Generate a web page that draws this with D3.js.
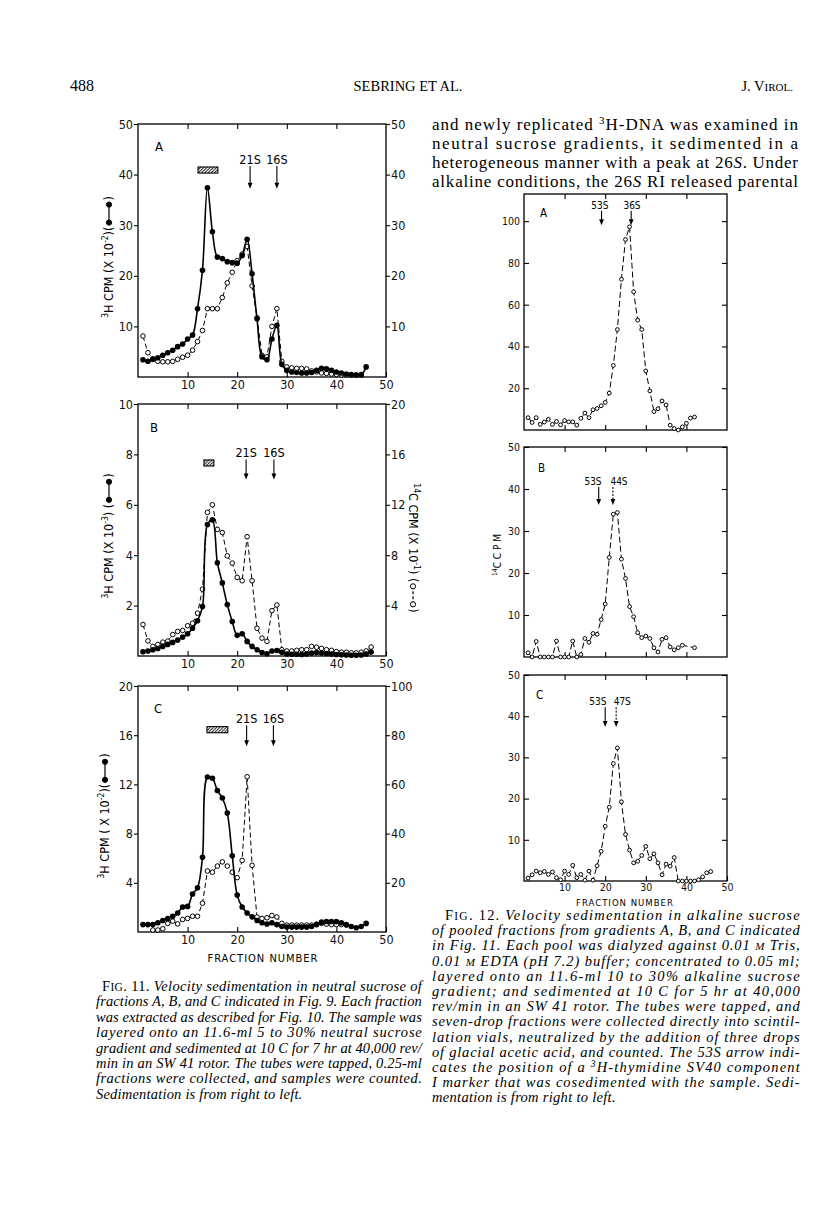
<!DOCTYPE html>
<html><head><meta charset="utf-8">
<script src="https://d3js.org/d3.v7.min.js"></script>
<style>html,body{margin:0;padding:0;background:#fff}svg{display:block}</style>
</head><body>
<svg id="page" width="816" height="1206" xmlns="http://www.w3.org/2000/svg"></svg>
<script>
// ================= DATA =================
const xTickValues = [10, 20, 30, 40, 50];

// Fig. 11 panel A  (3H solid, open on same scale)
const leftA_fractions = d3.range(1, 47);
const leftA_tritium = [3.4,3.1,3.5,3.8,4.3,4.8,5.3,6.0,6.5,7.5, 8.3,13.5,21.1,37.4,28.7,23.7,23.4,22.8,22.6,22.5,
  24.0,27.2,20.4,11.5,4.0,3.4,7.5,10.2,2.5,1.3, 1.0,0.9,0.8,0.8,0.9,1.3,1.7,1.6,1.3,1.0, 0.8,0.6,0.5,0.4,0.4,2.0];
const leftA_openFractions = d3.range(1, 46);
const leftA_open = [8.1,4.8,3.6,3.1,3.0,3.0,3.1,3.5,3.9,4.3, 5.3,7.0,9.2,13.5,13.5,13.5,15.7,18.6,20.7,23.0,
  24.3,25.8,18.0,11.7,4.3,4.0,10.0,13.5,3.1,2.0, 1.8,1.7,1.7,1.6,1.2,1.0,0.8,0.7,0.6,0.5, 0.4,0.4,0.4,0.4,0.5];

// Fig. 11 panel B  (3H x10^-3 left, 14C x10^-1 right)
const leftB_fractions = d3.range(1, 48);
const leftB_tritium = [0.17,0.2,0.25,0.3,0.38,0.46,0.54,0.63,0.75,0.88, 1.1,1.4,1.96,5.22,5.4,3.7,2.9,2.04,1.37,0.82,
  0.88,0.58,0.38,0.25,0.14,0.09,0.2,0.22,0.15,0.08, 0.07,0.07,0.06,0.08,0.12,0.14,0.12,0.1,0.08,0.06,
  0.05,0.04,0.03,0.03,0.04,0.08,0.16];
const leftB_carbon = [2.5,1.2,0.76,0.92,1.1,1.18,1.7,1.95,2.03,2.4, 2.6,3.4,5.3,11.4,12.0,10.05,9.8,7.95,7.37,6.24,
  5.97,9.47,5.97,2.2,1.42,1.16,3.6,4.05,0.5,0.4, 0.4,0.45,0.5,0.5,0.76,0.7,0.6,0.5,0.45,0.35,
  0.3,0.3,0.25,0.25,0.3,0.4,0.71];

// Fig. 11 panel C  (3H x10^-2 left, open on right 0-100)
const leftC_fractions = d3.range(1, 47);
const leftC_tritium = [0.6,0.6,0.6,0.75,0.93,1.1,1.28,1.55,2.03,2.08, 3.09,3.6,6.08,12.6,12.5,11.5,10.9,9.68,6.2,3.0,
  2.03,1.55,1.23,0.93,0.75,0.65,0.75,0.6,0.45,0.4, 0.4,0.4,0.4,0.4,0.45,0.6,0.8,0.85,0.85,0.85,
  0.75,0.6,0.45,0.35,0.45,0.7];
const leftC_openFractions = d3.range(3, 43);
const leftC_open = [0.8,0.8,1.3,3.5,4.4,3.3,5.1,5.5,6.4,6.4, 11.7,24.8,24.3,26.8,28.5,26.8,24.3,22.1,29.1,63.1,
  27.1,6.1,5.5,5.8,6.7,6.1,3.5,2.8,2.8,2.8, 2.8,2.8,2.8,3.2,3.5,3.2,3.0,3.0,3.0,2.8];

// Fig. 12 panels (14C CPM, alkaline)
const rightA_fractions = d3.range(1, 43);
const rightA_cpm = [5.9,3.6,5.9,2.7,3.8,5.1,2.7,4.1,2.5,4.5, 3.9,3.9,2.3,5.6,8.1,5.9,9.7,10.3,11.6,13.2,
  17.7,30.9,48.1,72.2,91.2,97.3,66.2,52.6,48.1,28.3, 18.7,8.8,10.2,13.9,12.0,2.3,0.7,0,1.5,3.2, 5.7,6.2];
const rightB_fractions = d3.range(1, 40).concat([42]);
const rightB_cpm = [1.0,0,3.7,0,0,0,0,3.8,0,0, 0,3.8,0,0.6,4.4,3.5,5.6,5.4,8.9,12.6,
  23.7,34,34.4,23.3,18.7,12,9.6,5.8,4.6,5.0, 4.4,2.2,1.2,4.2,4.6,2.4,1.7,2.2,2.8, 2.2];
const rightC_fractions = d3.range(1, 47);
const rightC_cpm = [0.7,1.5,2.4,2.0,2.3,1.6,2.2,0.8,0.3,2.4, 1.6,3.8,0.8,1.6,0.2,2.4,0.2,3.7,7.2,13.3,
  17.9,28.5,32.3,19.2,11.3,7.5,4.4,4.8,6.2,8.4, 5.4,6.6,4.4,1.5,4.1,3.6,5.7,0,0,0, 0,0,0.3,1.0,2.0,2.3];

// Axis tick labels
const leftA_ticksL = [10,20,30,40,50], leftA_ticksR = [10,20,30,40,50];
const leftB_ticksL = [2,4,6,8,10],    leftB_ticksR = [4,8,12,16,20];
const leftC_ticksL = [4,8,12,16,20],  leftC_ticksR = [20,40,60,80,100];
const rightA_ticks = [20,40,60,80,100];
const rightBC_ticks = [10,20,30,40,50];

// Hatched pool bars: [fraction from, fraction to, value low, value high]
const poolBars = [[12.1,16.1,40.3,41.5],[13.3,15.3,7.54,7.78],[13.9,18.1,16.2,16.7]];
// Sedimentation markers: label, arrow fraction, arrow from value, to value, label fraction
const markersLeftA = [["21S",22.6,41.7,37.2,22.6],["16S",28.0,41.7,37.2,28.0]];
const markersLeftB = [["21S",21.8,7.8,7.0,21.8],["16S",27.4,7.8,7.0,27.4]];
const markersLeftC = [["21S",21.9,16.8,15.1,21.9],["16S",27.3,16.8,15.1,27.3]];
const markersRightA = [["53S",19.1,105,98,18.7],["36S",26.4,105,98,26.6]];
const markersRightB = [["53S",18.4,40.5,36.2,17.0],["44S",21.9,40.5,36.2,23.4]];
const markersRightC = [["53S",20.0,42.2,37.4,18.2],["47S",22.7,42.2,37.4,24.2]];

// ================= DRAWING =================
const svg = d3.select("#page");
const AX = "'Liberation Sans Narrow','Arial Narrow','DejaVu Sans Condensed',sans-serif";
const SERIF = "'Liberation Serif','Times New Roman',serif";
svg.append("rect").attr("width",816).attr("height",1206).attr("fill","#fff");

const defs = svg.append("defs");
const pat = defs.append("pattern").attr("id","hatch").attr("patternUnits","userSpaceOnUse")
  .attr("width",3.2).attr("height",3.2);
pat.append("path").attr("d","M-1,1 l2,-2 M0,3.2 l3.2,-3.2 M2.2,4.2 l2,-2")
  .attr("stroke","#000").attr("stroke-width",0.9);

function drawPanel(p) {
  const x = d3.scaleLinear().domain([0,50]).range([p.x0,p.x1]);
  const yL = d3.scaleLinear().domain([0,p.maxL]).range([p.yb,p.yt]);
  const yR = d3.scaleLinear().domain([0,p.maxR]).range([p.yb,p.yt]);
  const g = svg.append("g");
  const inner = [10,20,30,40];
  g.append("g").attr("transform",`translate(0,${p.yt})`)
    .call(d3.axisTop(x).tickValues(inner).tickSize(-5).tickFormat(""));
  const bAxis = g.append("g").attr("transform",`translate(0,${p.yb})`)
    .call(d3.axisBottom(x).tickValues(p.xLabels ? xTickValues : inner).tickSize(-5)
      .tickPadding(p.right ? 3 : 3).tickFormat(p.xLabels ? d3.format("d") : ""));
  bAxis.attr("font-family",AX).attr("font-size",p.right?10.5:12.5);
  if (p.right) {
    const la = g.append("g").attr("transform",`translate(${p.x0},0)`)
      .call(d3.axisLeft(yL).tickValues(p.tL).tickSize(-5).tickPadding(4));
    la.attr("font-family",AX).attr("font-size",10.5);
    g.append("g").attr("transform",`translate(${p.x1},0)`)
      .call(d3.axisRight(yL).tickValues(p.tL).tickSize(-5).tickFormat(""));
  } else {
    const la = g.append("g").attr("transform",`translate(${p.x0},0)`)
      .call(d3.axisLeft(yL).tickValues(p.tL).tickSize(4).tickPadding(1));
    la.attr("font-family",AX).attr("font-size",12.5);
    const ra = g.append("g").attr("transform",`translate(${p.x1},0)`)
      .call(d3.axisRight(yR).tickValues(p.tR).tickSize(4).tickPadding(1));
    ra.attr("font-family",AX).attr("font-size",12.5);
  }
  g.selectAll(".domain").remove();
  g.selectAll(".tick line").attr("stroke","#000").attr("stroke-width",1.1);
  g.selectAll(".tick text").attr("fill","#111");
  g.append("rect").attr("x",p.x0).attr("y",p.yt).attr("width",p.x1-p.x0).attr("height",p.yb-p.yt)
    .attr("fill","none").attr("stroke","#000").attr("stroke-width",1.3);

  g.append("text").attr("x",p.letterX).attr("y",p.letterY).attr("font-family",AX)
    .attr("font-size",p.right?11.5:13).text(p.letter);

  if (p.bar) {
    const [f0,f1,v0,v1] = p.bar;
    g.append("rect").attr("x",x(f0)).attr("y",yL(v1)).attr("width",x(f1)-x(f0)).attr("height",yL(v0)-yL(v1))
      .attr("fill","url(#hatch)").attr("stroke","#000").attr("stroke-width",1.1);
  }
  p.markers.forEach((m,i) => {
    const [lab,f,v0,v1,lf] = m;
    const ax = x(f), ya = yL(v0), yb = yL(v1);
    g.append("line").attr("x1",ax).attr("x2",ax).attr("y1",ya).attr("y2",yb-3)
      .attr("stroke","#000").attr("stroke-width",1.1)
      .attr("stroke-dasharray", (p.right && i===1 && p.dottedSecond) ? "2,1.5" : null);
    g.append("path").attr("d",`M${ax-2.4},${yb-6}L${ax},${yb}L${ax+2.4},${yb-6}Z`).attr("fill","#000");
    g.append("text").attr("x",x(lf)).attr("y",ya-2).attr("text-anchor","middle")
      .attr("font-family",AX).attr("font-size",p.right?10:12.5).text(lab);
  });

  p.series.forEach(s => {
    const y = s.axis === "R" ? yR : yL;
    const pts = s.f.map((f,i) => [f, s.v[i]]);
    if (s.kind === "solid") {
      g.append("path").datum(pts).attr("fill","none").attr("stroke","#000").attr("stroke-width",1.6)
        .attr("d", d3.line().x(d=>x(d[0])).y(d=>y(d[1])).curve(d3.curveCatmullRom.alpha(0.5)));
      g.append("g").selectAll("circle").data(pts).join("circle")
        .attr("cx",d=>x(d[0])).attr("cy",d=>y(d[1])).attr("r",2.8).attr("fill","#000");
    } else {
      g.append("path").datum(pts).attr("fill","none").attr("stroke","#000").attr("stroke-width",1)
        .attr("stroke-dasharray", p.right ? "6,3" : "5,3")
        .attr("d", d3.line().x(d=>x(d[0])).y(d=>y(d[1])));
      g.append("g").selectAll("circle").data(pts).join("circle")
        .attr("cx",d=>x(d[0])).attr("cy",d=>y(d[1])).attr("r",p.right?1.9:2.3)
        .attr("fill","#fff").attr("stroke","#000").attr("stroke-width",1);
    }
  });
}

const panels = [
  {x0:138,x1:386,yt:124,yb:377,maxL:50,maxR:50,tL:leftA_ticksL,tR:leftA_ticksR,xLabels:true,right:false,
   letter:"A",letterX:155,letterY:151,bar:poolBars[0],markers:markersLeftA,
   series:[{f:leftA_openFractions,v:leftA_open,axis:"L",kind:"open"},{f:leftA_fractions,v:leftA_tritium,axis:"L",kind:"solid"}]},
  {x0:138,x1:386,yt:404,yb:656,maxL:10,maxR:20,tL:leftB_ticksL,tR:leftB_ticksR,xLabels:true,right:false,
   letter:"B",letterX:150,letterY:432,bar:poolBars[1],markers:markersLeftB,
   series:[{f:leftB_fractions,v:leftB_carbon,axis:"R",kind:"open"},{f:leftB_fractions,v:leftB_tritium,axis:"L",kind:"solid"}]},
  {x0:138,x1:386,yt:686,yb:932,maxL:20,maxR:100,tL:leftC_ticksL,tR:leftC_ticksR,xLabels:true,right:false,
   letter:"C",letterX:154,letterY:713,bar:poolBars[2],markers:markersLeftC,
   series:[{f:leftC_openFractions,v:leftC_open,axis:"R",kind:"open"},{f:leftC_fractions,v:leftC_tritium,axis:"L",kind:"solid"}]},
  {x0:524,x1:727,yt:194,yb:430,maxL:113,maxR:113,tL:rightA_ticks,xLabels:false,right:true,
   letter:"A",letterX:540,letterY:217,markers:markersRightA,
   series:[{f:rightA_fractions,v:rightA_cpm,axis:"L",kind:"open"}]},
  {x0:524,x1:727,yt:447,yb:657,maxL:50,maxR:50,tL:rightBC_ticks,xLabels:false,right:true,dottedSecond:true,
   letter:"B",letterX:538,letterY:472,markers:markersRightB,
   series:[{f:rightB_fractions,v:rightB_cpm,axis:"L",kind:"open"}]},
  {x0:524,x1:727,yt:675,yb:881,maxL:50,maxR:50,tL:rightBC_ticks,xLabels:true,right:true,dottedSecond:true,
   letter:"C",letterX:536,letterY:699,markers:markersRightC,
   series:[{f:rightC_fractions,v:rightC_cpm,axis:"L",kind:"open"}]}
];
panels.forEach(drawPanel);

// ---------- rotated axis titles ----------
function richText(parent, parts, fs) {
  const t = parent.append("text").attr("font-size", fs);
  let shift = 0;
  parts.forEach(p => {
    const ts = t.append("tspan").text(p.t);
    const target = p.sup ? -fs*0.4 : 0;
    if (target !== shift) { ts.attr("dy", target - shift); shift = target; }
    if (p.sup) ts.attr("font-size", fs*0.68);
  });
  return t;
}
function yTitle(cx, cy, rot, parts, fs, marker) {
  const g = svg.append("g").attr("transform",`translate(${cx},${cy}) rotate(${rot})`).attr("font-family",AX);
  const t1 = richText(g, parts, fs);
  const w1 = t1.node().getComputedTextLength();
  let mw = 0, w2 = 0, t2 = null;
  if (marker) {
    mw = 26;
    t2 = g.append("text").attr("font-size",fs).text(")");
    w2 = t2.node().getComputedTextLength();
  }
  const s = -(w1+mw+w2)/2;
  t1.attr("x", s).attr("y", fs*0.35);
  if (marker) {
    const my = 0, a = s+w1+4, b = s+w1+mw-4;
    g.append("line").attr("x1",a).attr("x2",b).attr("y1",my).attr("y2",my).attr("stroke","#000")
      .attr("stroke-width",1.2).attr("stroke-dasharray", marker==="open" ? "3,2" : null);
    [a,b].forEach(cxm => g.append("circle").attr("cx",cxm).attr("cy",my).attr("r",2.6)
      .attr("fill", marker==="open" ? "#fff" : "#000").attr("stroke","#000").attr("stroke-width",1));
    t2.attr("x", s+w1+mw).attr("y", fs*0.35);
  }
}
yTitle(109, 257, -90, [{t:"3",sup:true},{t:"H CPM (X 10"},{t:"-2",sup:true},{t:")("}], 12.5, "solid");
yTitle(109, 536, -90, [{t:"3",sup:true},{t:"H CPM (X 10"},{t:"-3",sup:true},{t:") ("}], 12.5, "solid");
yTitle(413, 548, 90, [{t:"14",sup:true},{t:"C CPM (X 10"},{t:"-1",sup:true},{t:") ("}], 12.5, "open");
yTitle(105, 816, -90, [{t:"3",sup:true},{t:"H CPM ( X 10"},{t:"-2",sup:true},{t:")("}], 12.5, "solid");
const t14 = svg.append("g").attr("transform","translate(497,555) rotate(-90)").attr("font-family",AX);
richText(t14, [{t:"14",sup:true},{t:"C C P M"}], 10).attr("text-anchor","middle").attr("y",3.5);

// x axis titles
svg.append("text").attr("x",263).attr("y",962).attr("text-anchor","middle").attr("font-family",AX)
  .attr("font-size",11).attr("letter-spacing",1).text("FRACTION NUMBER");
svg.append("text").attr("x",625).attr("y",906).attr("text-anchor","middle").attr("font-family",AX)
  .attr("font-size",9.5).attr("letter-spacing",1).text("FRACTION NUMBER");

// ---------- page text ----------
function para(lines, x, right, y0, lh, fs, baseStyle, justifyLast, indent, ls) {
  lines.forEach((parts, i) => {
    const ind = i === 0 ? indent : 0;
    const t = svg.append("text").attr("x", x + ind).attr("y", y0 + i*lh)
      .attr("font-family", SERIF).attr("font-size", fs).attr("font-style", baseStyle)
      .attr("letter-spacing", ls || 0);
    (typeof parts === "string" ? [{t:parts}] : parts).forEach(p => {
      const ts = t.append("tspan").text(p.t);
      if (p.st) ts.attr("font-style", p.st);
      if (p.fs) ts.attr("font-size", p.fs);
      if (p.sup) ts.attr("baseline-shift","super").attr("font-size", fs*0.65);
    });
    if (i < lines.length-1 || justifyLast) {
      t.attr("textLength", right - x - ind).attr("lengthAdjust","spacing");
    }
  });
}

// header
svg.append("text").attr("x",70).attr("y",91).attr("font-family",SERIF).attr("font-size",16).text("488");
svg.append("text").attr("x",408).attr("y",91).attr("text-anchor","middle").attr("font-family",SERIF)
  .attr("font-size",14.5).text("SEBRING ET AL.");
const jv = svg.append("text").attr("x",793).attr("y",91).attr("text-anchor","end").attr("font-family",SERIF).attr("font-size",14.5);
jv.append("tspan").text("J. V"); jv.append("tspan").attr("font-size",11).text("IROL.");

// right column paragraph
para([
  [{t:"and newly replicated "},{t:"3",sup:true},{t:"H-DNA was examined in"}],
  "neutral sucrose gradients, it sedimented in a",
  [{t:"heterogeneous manner with a peak at 26"},{t:"S",st:"italic"},{t:". Under"}],
  [{t:"alkaline conditions, the 26"},{t:"S",st:"italic"},{t:" RI released parental"}]
], 432, 798, 130, 19, 17, "normal", true, 0, 0);

// Fig 11 caption
para([
  [{t:"F",st:"normal"},{t:"IG",st:"normal",fs:11.5},{t:". 11. ",st:"normal"},{t:"Velocity sedimentation in neutral sucrose of"}],
  "fractions A, B, and C indicated in Fig. 9. Each fraction",
  "was extracted as described for Fig. 10. The sample was",
  "layered onto an 11.6-ml 5 to 30% neutral sucrose",
  "gradient and sedimented at 10 C for 7 hr at 40,000 rev/",
  "min in an SW 41 rotor. The tubes were tapped, 0.25-ml",
  "fractions were collected, and samples were counted.",
  "Sedimentation is from right to left."
], 96, 422, 991, 15.4, 14.5, "italic", false, 6, 0.2);

// Fig 12 caption
para([
  [{t:"F",st:"normal"},{t:"IG",st:"normal",fs:11.5},{t:". 12. ",st:"normal"},{t:"Velocity sedimentation in alkaline sucrose"}],
  "of pooled fractions from gradients A, B, and C indicated",
  [{t:"in Fig. 11. Each pool was dialyzed against 0.01 "},{t:"M",fs:11},{t:" Tris,"}],
  [{t:"0.01 "},{t:"M",fs:11},{t:" EDTA (pH 7.2) buffer; concentrated to 0.05 ml;"}],
  "layered onto an 11.6-ml 10 to 30% alkaline sucrose",
  "gradient; and sedimented at 10 C for 5 hr at 40,000",
  "rev/min in an SW 41 rotor. The tubes were tapped, and",
  "seven-drop fractions were collected directly into scintil-",
  "lation vials, neutralized by the addition of three drops",
  "of glacial acetic acid, and counted. The 53S arrow indi-",
  [{t:"cates the position of a "},{t:"3",sup:true},{t:"H-thymidine SV40 component"}],
  "I marker that was cosedimented with the sample. Sedi-",
  "mentation is from right to left."
], 432, 800, 920, 15.2, 14.5, "italic", false, 13, 0.3);
</script>
</body></html>
